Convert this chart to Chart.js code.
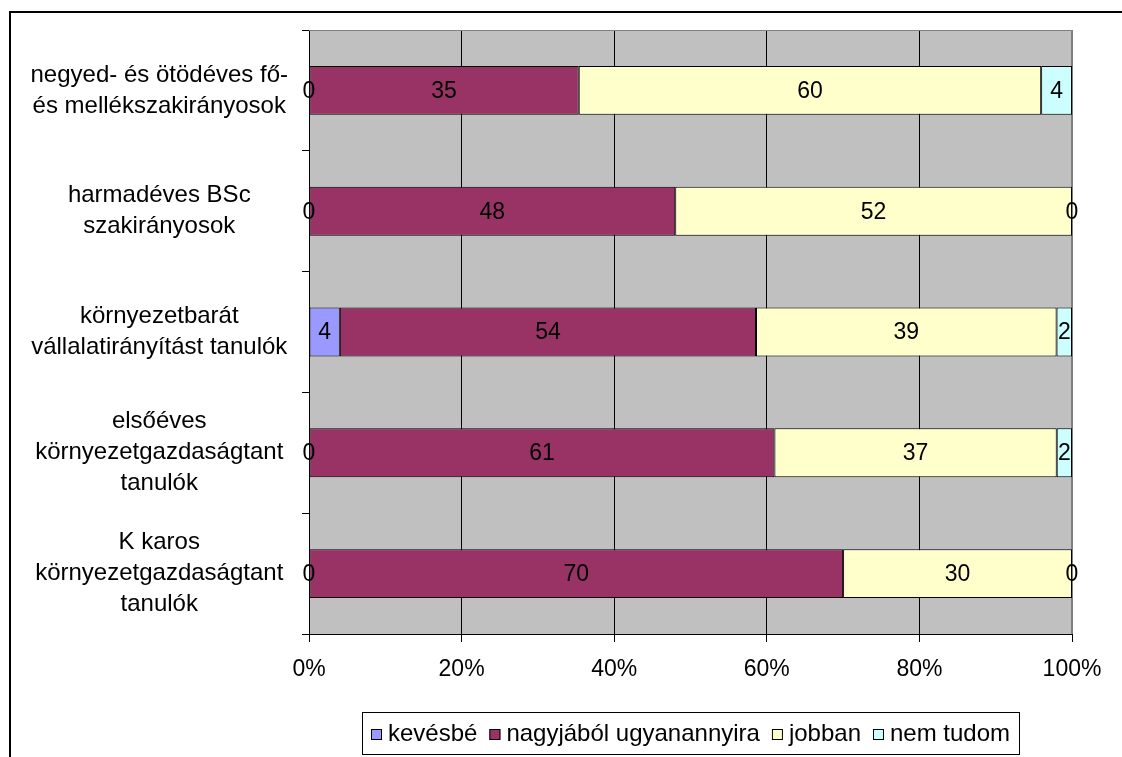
<!DOCTYPE html>
<html>
<head>
<meta charset="utf-8">
<script src="https://cdn.jsdelivr.net/npm/chart.js@4.4.0/dist/chart.umd.min.js"></script>
<style>
  html, body { margin: 0; padding: 0; background: #fff; }
  canvas { display: block; }
</style>
</head>
<body>
<canvas id="chart" width="1122" height="757"></canvas>
<script>
// categories top to bottom, wrapped the way the source chart wraps them
const categories = [
  ['negyed- és ötödéves fő-', 'és mellékszakirányosok'],
  ['harmadéves BSc', 'szakirányosok'],
  ['környezetbarát', 'vállalatirányítást tanulók'],
  ['elsőéves', 'környezetgazdaságtant', 'tanulók'],
  ['K karos', 'környezetgazdaságtant', 'tanulók']
];
const seriesNames = ['kevésbé', 'nagyjából ugyanannyira', 'jobban', 'nem tudom'];
const kevesbe = [0, 0, 4, 0, 0];
const nagyjabol = [35, 48, 54, 61, 70];
const jobban = [60, 52, 39, 37, 30];
const nemTudom = [4, 0, 2, 2, 0];
const xTicks = [0, 20, 40, 60, 80, 100];
const colors = ['#9999FF', '#993366', '#FFFFCC', '#CCFFFF'];

const FONT = "'Liberation Sans', Arial, sans-serif";
const FONT_SIZE = 23;
const LABEL_SIZE = 24;

const rawSeries = [kevesbe, nagyjabol, jobban, nemTudom];
const rowSums = categories.map((c, i) => rawSeries.reduce((s, arr) => s + arr[i], 0));

const datasets = rawSeries.map((arr, k) => ({
  label: seriesNames[k],
  data: arr.map((v, i) => v / rowSums[i] * 100),
  rawValues: arr,
  backgroundColor: colors[k],
  borderColor: '#000',
  borderWidth: 1,
  borderSkipped: false,
  categoryPercentage: 1,
  barPercentage: 0.405
}));

// white page, outer chart frame and grey plot area
const backdrop = {
  id: 'backdrop',
  beforeDraw(chart) {
    const { ctx, chartArea } = chart;
    ctx.save();
    ctx.fillStyle = '#fff';
    ctx.fillRect(0, 0, chart.width, chart.height);
    ctx.strokeStyle = '#000';
    ctx.lineWidth = 2;
    ctx.beginPath();
    ctx.moveTo(10, chart.height + 2);
    ctx.lineTo(10, 12);
    ctx.lineTo(chart.width + 2, 12);
    ctx.stroke();
    ctx.fillStyle = '#C0C0C0';
    ctx.fillRect(chartArea.left, chartArea.top, chartArea.right - chartArea.left, chartArea.bottom - chartArea.top);
    ctx.restore();
  },
  beforeDatasetsDraw(chart) {
    const { ctx, chartArea } = chart;
    ctx.save();
    ctx.strokeStyle = '#808080';
    ctx.lineWidth = 1;
    ctx.beginPath();
    ctx.moveTo(chartArea.left, chartArea.top + 0.5);
    ctx.lineTo(chartArea.right - 0.5, chartArea.top + 0.5);
    ctx.lineTo(chartArea.right - 0.5, chartArea.bottom);
    ctx.stroke();
    ctx.restore();
  }
};

// raw counts written in the middle of each segment
const valueLabels = {
  id: 'valueLabels',
  afterDatasetsDraw(chart) {
    const { ctx } = chart;
    ctx.save();
    ctx.font = FONT_SIZE + 'px ' + FONT;
    ctx.fillStyle = '#000';
    ctx.textAlign = 'center';
    ctx.textBaseline = 'middle';
    chart.data.datasets.forEach((ds, i) => {
      chart.getDatasetMeta(i).data.forEach((bar, j) => {
        const { x, y, base } = bar.getProps(['x', 'y', 'base'], true);
        ctx.fillText(String(ds.rawValues[j]), (x + base) / 2, y + 1);
      });
    });
    ctx.restore();
  }
};

// boxed legend under the axis, Excel style
const boxLegend = {
  id: 'boxLegend',
  afterDraw(chart) {
    const { ctx, chartArea } = chart;
    const marker = 11, markerGap = 6, itemGap = 12, padX = 9;
    const top = 712, height = 42;
    ctx.save();
    ctx.font = LABEL_SIZE + 'px ' + FONT;
    const items = chart.data.datasets.map(ds => ({
      text: ds.label,
      color: ds.backgroundColor,
      w: ctx.measureText(ds.label).width
    }));
    let total = padX * 2 + itemGap * (items.length - 1);
    items.forEach(it => { total += marker + markerGap + it.w; });
    total = Math.round(total);
    const cx = (chartArea.left + chartArea.right) / 2;
    let x = Math.round(cx - total / 2);
    ctx.fillStyle = '#fff';
    ctx.fillRect(x, top, total, height);
    ctx.strokeStyle = '#000';
    ctx.lineWidth = 1;
    ctx.strokeRect(x + 0.5, top + 0.5, total, height);
    const cy = top + height / 2;
    x += padX;
    ctx.textBaseline = 'middle';
    ctx.textAlign = 'left';
    items.forEach(it => {
      const my = Math.round(cy - marker / 2 + 1);
      ctx.fillStyle = it.color;
      ctx.fillRect(x, my, marker, marker);
      ctx.strokeRect(x + 0.5, my + 0.5, marker - 1, marker - 1);
      x += marker + markerGap;
      ctx.fillStyle = '#000';
      ctx.fillText(it.text, x, cy + 1);
      x += it.w + itemGap;
    });
    ctx.restore();
  }
};

new Chart(document.getElementById('chart'), {
  type: 'bar',
  data: { labels: categories, datasets },
  options: {
    indexAxis: 'y',
    responsive: false,
    animation: false,
    layout: { padding: { left: 10, right: 50, top: 30, bottom: 0 } },
    plugins: {
      legend: { display: false },
      tooltip: { enabled: false }
    },
    scales: {
      x: {
        stacked: true,
        min: 0,
        max: 100,
        afterBuildTicks: (scale) => { scale.ticks = xTicks.map(v => ({ value: v })); },
        afterFit: (scale) => { scale.height = 123; },
        ticks: {
          callback: (v) => v + '%',
          font: { family: FONT, size: FONT_SIZE },
          color: '#000',
          padding: 14,
          maxRotation: 0
        },
        grid: {
          color: (c) => (c.tick && c.tick.value === 100 ? '#808080' : '#000'),
          tickColor: '#000',
          tickLength: 8,
          lineWidth: 1
        },
        border: { color: '#000', width: 1 }
      },
      y: {
        stacked: true,
        afterFit: (scale) => {
          scale.width = 299;
          scale.paddingTop = 0;
          scale.paddingBottom = 0;
        },
        ticks: {
          font: { family: FONT, size: LABEL_SIZE, lineHeight: 31 / LABEL_SIZE },
          color: '#000',
          padding: 14,
          crossAlign: 'center',
          autoSkip: false
        },
        grid: {
          drawOnChartArea: false,
          color: '#000',
          tickLength: 7,
          offset: true
        },
        border: { color: '#000', width: 1 }
      }
    }
  },
  plugins: [backdrop, valueLabels, boxLegend]
});
</script>
</body>
</html>
